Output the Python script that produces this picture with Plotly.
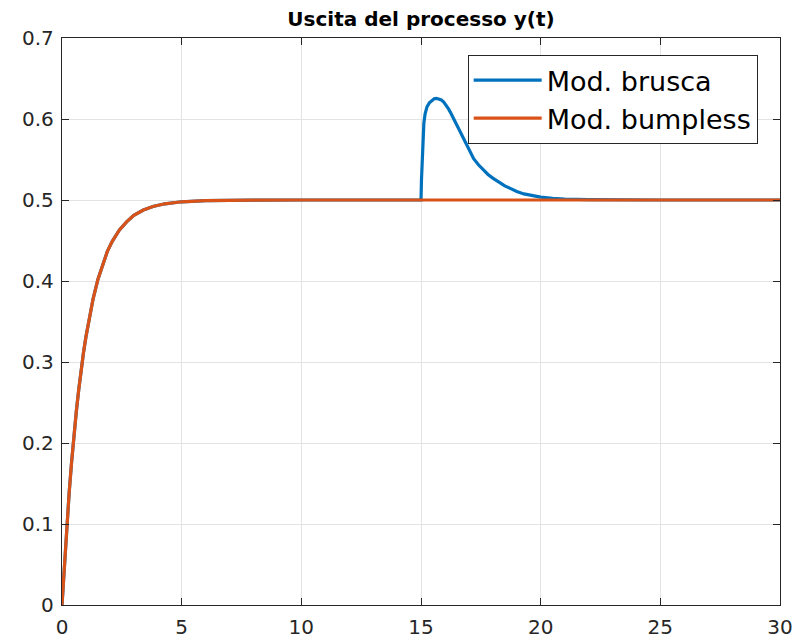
import plotly.graph_objects as go

# ---- data ----
t_rise = [0, 0.05, 0.1, 0.15, 0.2, 0.3, 0.4, 0.5, 0.6, 0.7, 0.8, 0.9, 1.0, 1.15,
          1.3, 1.5, 1.7, 1.9, 2.1, 2.4, 2.7, 3.0, 3.4, 3.8, 4.3, 5.0, 6.0, 7.0,
          8.0, 10.0, 15.0]
y_rise = [0, 0.026, 0.052, 0.075, 0.098, 0.139, 0.176, 0.21, 0.2395, 0.266, 0.2905,
          0.312, 0.331, 0.357, 0.378, 0.402, 0.421, 0.437, 0.449, 0.463, 0.473,
          0.481, 0.4876, 0.492, 0.4953, 0.4978, 0.4993, 0.4998, 0.4999, 0.5, 0.5]

t_bump = [15.02, 15.05, 15.08, 15.12, 15.17, 15.25, 15.35, 15.45, 15.55, 15.65,
          15.75, 15.85, 15.95, 16.05, 16.15, 16.25, 16.35, 16.5, 16.65, 16.8, 17.0,
          17.2, 17.4, 17.6, 17.8, 18.0, 18.25, 18.5, 18.75, 19.0, 19.3, 19.6, 20.0,
          20.5, 21.0, 22.0, 23.0, 25.0, 30.0]
y_bump = [0.525, 0.556, 0.578, 0.595, 0.606, 0.615, 0.62, 0.623, 0.625, 0.6255,
          0.625, 0.6235, 0.621, 0.6175, 0.6125, 0.607, 0.601, 0.592, 0.582, 0.573,
          0.561, 0.551, 0.5435, 0.537, 0.5315, 0.527, 0.522, 0.5175, 0.514, 0.5105,
          0.5075, 0.5055, 0.5035, 0.502, 0.501, 0.5004, 0.5001, 0.5, 0.5]

t_flat = [30.0]
y_flat = [0.5]

x_ticks = [0, 5, 10, 15, 20, 25, 30]
y_ticks = [0, 0.1, 0.2, 0.3, 0.4, 0.5, 0.6, 0.7]
y_tick_labels = ["0", "0.1", "0.2", "0.3", "0.4", "0.5", "0.6", "0.7"]

series_names = ["Mod. brusca", "Mod. bumpless"]
series_colors = ["#0072BD", "#D95319"]

t_brusca = t_rise + t_bump
y_brusca = y_rise + y_bump
t_bumpless = t_rise + t_flat
y_bumpless = y_rise + y_flat

fig = go.Figure()
fig.add_trace(go.Scatter(x=t_brusca, y=y_brusca, mode="lines", name=series_names[0],
                         line=dict(color=series_colors[0], width=3.2)))
fig.add_trace(go.Scatter(x=t_bumpless, y=y_bumpless, mode="lines", name=series_names[1],
                         line=dict(color=series_colors[1], width=3.2)))

axis_common = dict(
    showline=True, linecolor="#262626", linewidth=1.3, mirror="ticks",
    ticks="inside", ticklen=7, tickwidth=1.3, tickcolor="#262626",
    showgrid=True, gridcolor="#e3e3e3", gridwidth=1, zeroline=False,
    tickfont=dict(family="DejaVu Sans", size=20, color="#262626"),
    automargin=False,
)

fig.update_xaxes(range=[0, 30], tickvals=x_ticks, ticktext=[str(v) for v in x_ticks],
                 ticklabelstandoff=4, **axis_common)
fig.update_yaxes(range=[0, 0.7], tickvals=y_ticks, ticktext=y_tick_labels,
                 ticklabelstandoff=3, **axis_common)

fig.update_layout(
    width=801, height=638,
    margin=dict(l=62, r=21, t=38, b=33, autoexpand=False),
    paper_bgcolor="white", plot_bgcolor="white",
    title=dict(text="<b>Uscita del processo y(t)</b>", x=0.5, xref="paper",
               y=1 - 19 / 638, yref="container", xanchor="center", yanchor="middle",
               font=dict(family="DejaVu Sans", size=20, color="#000000")),
    legend=dict(x=0.565, y=0.97, xanchor="left", yanchor="top",
                bgcolor="white", bordercolor="#262626", borderwidth=1,
                font=dict(family="DejaVu Sans", size=27, color="#000000"),
                tracegroupgap=0, itemwidth=68),
    showlegend=True,
)

fig.write_html("out.html", config={"displayModeBar": False},
               post_script="document.body.style.margin='0';")
